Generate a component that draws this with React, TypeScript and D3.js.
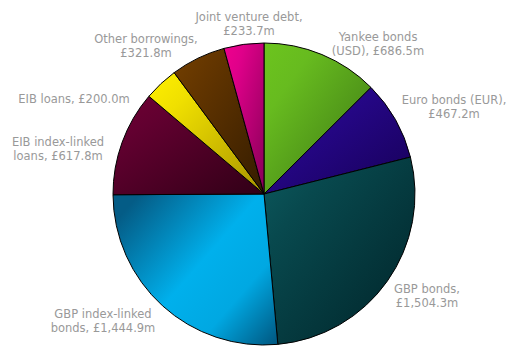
import React from "react";
import * as d3 from "d3";

const categories = [
  "Yankee bonds (USD)",
  "Euro bonds (EUR)",
  "GBP bonds",
  "GBP index-linked bonds",
  "EIB index-linked loans",
  "EIB loans",
  "Other borrowings",
  "Joint venture debt",
];
const values = [686.5, 467.2, 1504.3, 1444.9, 617.8, 200.0, 321.8, 233.7];
const labelLines = [
  ["Yankee bonds", "(USD), £686.5m"],
  ["Euro bonds (EUR),", "£467.2m"],
  ["GBP bonds,", "£1,504.3m"],
  ["GBP index-linked", "bonds, £1,444.9m"],
  ["EIB index-linked", "loans, £617.8m"],
  ["EIB loans, £200.0m"],
  ["Other borrowings,", "£321.8m"],
  ["Joint venture debt,", "£233.7m"],
];

// layout (label centre x, first baseline y) per slice
const labelPos: [number, number][] = [
  [378, 41],
  [454, 104],
  [427, 293],
  [103, 318],
  [58, 146],
  [74, 103],
  [146, 43],
  [249, 21],
];

const gradients: string[][] = [
  ["#6cc41e", "#67bb1f", "#3b7414"],
  ["#2e0aa0", "#280890", "#170058"],
  ["#0c5a5e", "#08494e", "#002328"],
  ["#045c86", "#00b0ec", "#00a8e2", "#00557e"],
  ["#700034", "#620030", "#300016"],
  ["#fff000", "#f0e000", "#a89400"],
  ["#744000", "#643600", "#341c00"],
  ["#f0008e", "#e0008a", "#880058"],
];

const W = 511;
const H = 347;
const cx = 264;
const cy = 194;
const R = 151;

export default function App() {
  const pie = d3
    .pie<number>()
    .sort(null)
    .value((d) => d)
    .startAngle(0)
    .endAngle(2 * Math.PI);
  const arcs = pie(values);
  const arc = d3.arc<d3.PieArcDatum<number>>().innerRadius(0).outerRadius(R);

  return (
    <svg
      width={W}
      height={H}
      style={{ position: "absolute", left: 0, top: 0, background: "#fff" }}
    >
      <defs>
        {gradients.map((g, i) => (
          <linearGradient
            key={i}
            id={`g${i}`}
            x1="0"
            y1={i === 3 ? "0.2" : "0"}
            x2="1"
            y2="1"
          >
            {g.map((c, j) => (
              <stop
                key={j}
                offset={g.length === 4 ? [0, 0.45, 0.7, 1][j] : [0, 0.25, 1][j]}
                stopColor={c}
              />
            ))}
          </linearGradient>
        ))}
      </defs>
      <g transform={`translate(${cx},${cy})`}>
        {arcs.map((a, i) => (
          <path
            key={categories[i]}
            d={arc(a) || ""}
            fill={`url(#g${i})`}
            stroke="#000"
            strokeWidth={1}
            strokeLinejoin="round"
          />
        ))}
      </g>
      {labelLines.map((lines, i) => (
        <text
          key={i}
          x={labelPos[i][0]}
          y={labelPos[i][1]}
          textAnchor="middle"
          fontFamily="DejaVu Sans"
          fontSize={11.5}
          fill="#999999"
        >
          {lines.map((l, j) => (
            <tspan key={j} x={labelPos[i][0]} dy={j === 0 ? 0 : 14}>
              {l}
            </tspan>
          ))}
        </text>
      ))}
    </svg>
  );
}
